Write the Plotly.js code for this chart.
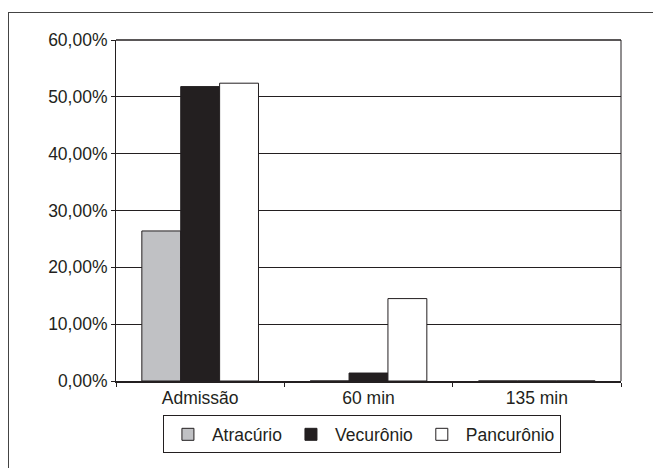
<!DOCTYPE html>
<html>
<head>
<meta charset="utf-8">
<script src="https://cdn.plot.ly/plotly-3.0.1.min.js"></script>
<style>
  html, body { margin: 0; padding: 0; background: #fff; }
  #wrap { position: relative; width: 653px; height: 468px; overflow: hidden; }
  #frame { position: absolute; left: 8px; top: 12px; width: 700px; height: 500px;
           border-left: 1px solid #444; border-top: 1px solid #444; pointer-events: none; }
  #chart { position: absolute; left: 0; top: 0; width: 653px; height: 468px; }
</style>
</head>
<body>
<div id="wrap">
  <div id="chart"></div>
  <div id="frame"></div>
</div>
<script>
const categories = ['Admissão', '60 min', '135 min'];
const atracurio = [26.4, 0, 0];
const vecuronio = [51.8, 1.4, 0];
const pancuronio = [52.4, 14.5, 0];
const seriesNames = ['Atracúrio', 'Vecurônio', 'Pancurônio'];
const tickVals = [0, 10, 20, 30, 40, 50, 60];
const tickText = ['0,00%', '10,00%', '20,00%', '30,00%', '40,00%', '50,00%', '60,00%'];

const outline = { color: '#231f20', width: 1 };
const traces = [
  { type: 'bar', name: seriesNames[0], x: categories, y: atracurio,
    marker: { color: '#c0c1c4', line: outline } },
  { type: 'bar', name: seriesNames[1], x: categories, y: vecuronio,
    marker: { color: '#231f20', line: outline } },
  { type: 'bar', name: seriesNames[2], x: categories, y: pancuronio,
    marker: { color: '#ffffff', line: outline } }
];

const FONT = 'Liberation Sans, Arial, sans-serif';
const layout = {
  width: 653, height: 468,
  margin: { l: 116, r: 32, t: 40, b: 86.5 },
  paper_bgcolor: '#ffffff', plot_bgcolor: '#ffffff',
  font: { family: FONT, size: 17.5, color: '#231f20' },
  barmode: 'group', bargap: 0.307, bargroupgap: 0,
  showlegend: true,
  legend: {
    orientation: 'h', x: 0.487, xanchor: 'center', y: -0.101, yanchor: 'top',
    bordercolor: '#231f20', borderwidth: 1, bgcolor: '#ffffff',
    font: { family: FONT, size: 17.5, color: '#231f20' },
    itemwidth: 38, traceorder: 'normal'
  },
  xaxis: {
    type: 'category', showgrid: false, zeroline: false,
    showline: true, linecolor: '#231f20', linewidth: 2, mirror: false,
    ticks: 'outside', tickson: 'boundaries', ticklen: 4, tickcolor: '#231f20',
    tickfont: { size: 17.5 }, fixedrange: true
  },
  yaxis: {
    range: [0, 60], tickvals: tickVals, ticktext: tickText,
    showgrid: true, gridcolor: '#231f20', gridwidth: 1,
    zeroline: false, showline: true, linecolor: '#231f20', linewidth: 1,
    ticks: 'outside', ticklen: 4, tickcolor: '#231f20',
    tickfont: { size: 17.5 }, fixedrange: true
  },
  shapes: [
    { type: 'line', xref: 'paper', yref: 'paper', x0: 1, x1: 1, y0: 0, y1: 1,
      line: { color: '#231f20', width: 1 } },
    { type: 'line', xref: 'paper', yref: 'paper', x0: 0, x1: 1, y0: 1, y1: 1,
      line: { color: '#231f20', width: 1.5 } }
  ]
};

Plotly.newPlot('chart', traces, layout, { displayModeBar: false, staticPlot: true });
</script>
</body>
</html>
